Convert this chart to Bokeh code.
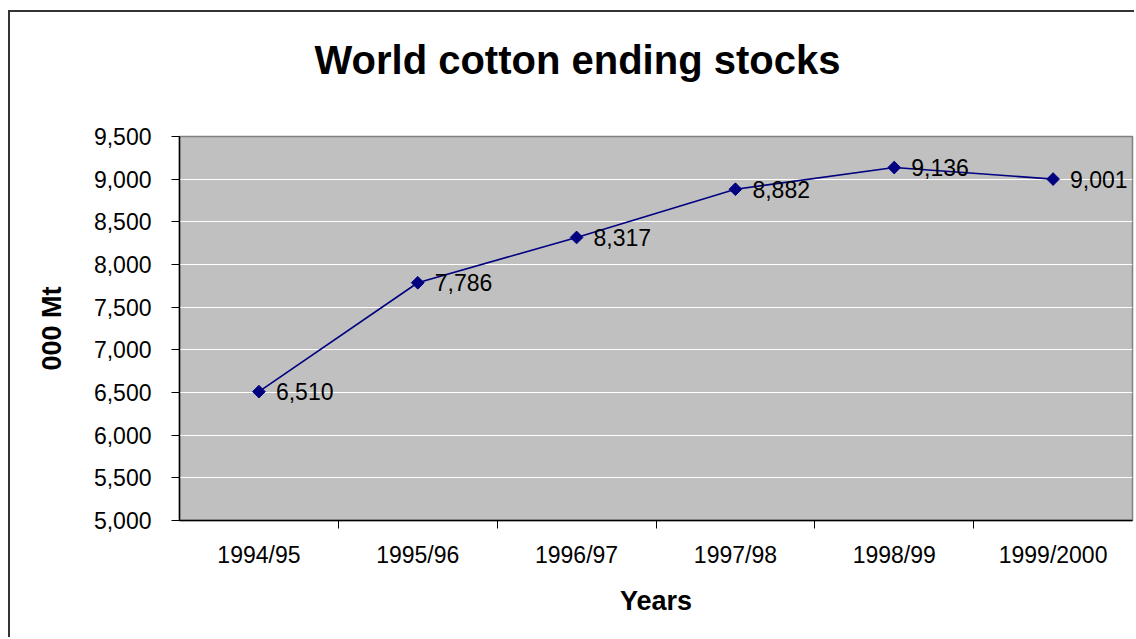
import math

from bokeh.core.properties import value
from bokeh.embed import file_html
from bokeh.models import (CategoricalAxis, ColumnDataSource, CustomLabelingPolicy,
                          FactorRange, Grid, LinearAxis, NumeralTickFormatter,
                          Range1d, SingleIntervalTicker)
from bokeh.plotting import figure
from bokeh.resources import INLINE

# World cotton ending stocks, thousand metric tons
years = ["1994/95", "1995/96", "1996/97", "1997/98", "1998/99", "1999/2000"]
stocks = [6510, 7786, 8317, 8882, 9136, 9001]
y_min, y_max, y_step = 5000, 9500, 500

FONT = "Liberation Sans"
NAVY = "#000080"
INK = "#000000"

# Labeling policy that hides every tick label of an axis
NO_LABELS = "for (const i of indices) indices.unset(i)\nreturn indices"

source = ColumnDataSource(data=dict(
    year=years,
    stock=stocks,
    label=[f"{v:,}" for v in stocks],
))

p = figure(
    x_range=FactorRange(factors=years),
    y_range=Range1d(y_min, y_max),
    width=1126, height=627,
    x_axis_type=None, y_axis_type=None,
    output_backend="svg", toolbar_location=None,
    min_border_left=169, min_border_right=4,
    min_border_top=124, min_border_bottom=119,
    background_fill_color="#C0C0C0",
    border_fill_color="white",
)
p.margin = (10, 0, 0, 8)
p.styles = {"border-left": "2px solid #333333", "border-top": "2px solid #333333"}

p.outline_line_color = "#808080"
p.outline_line_width = 1.5

# Title, centred over the whole chart rather than the plot area
p.title.text = "World cotton ending stocks"
p.title.text_font = FONT
p.title.text_font_size = "40px"
p.title.text_font_style = "bold"
p.title.text_color = INK
p.title.align = "left"
p.title.offset = 135
p.title.standoff = 42

# Blank band between the title and the plot area
spacer = CategoricalAxis(
    major_label_policy=CustomLabelingPolicy(code=NO_LABELS),
    major_label_text_font_size="0px",
    major_label_standoff=0,
    major_tick_in=0, major_tick_out=34,
    major_tick_line_color=None,
    axis_line_color=None,
)
p.add_layout(spacer, "above")

# Value axis
yticker = SingleIntervalTicker(interval=y_step)
yaxis = LinearAxis(
    ticker=yticker,
    formatter=NumeralTickFormatter(format="0,0"),
    axis_label="000 Mt",
    axis_label_text_font=FONT,
    axis_label_text_font_size="27px",
    axis_label_text_font_style="bold",
    axis_label_text_color=INK,
    axis_label_standoff=24,
    major_label_text_font=FONT,
    major_label_text_font_size="23px",
    major_label_text_color=INK,
    major_label_standoff=20,
    major_tick_in=0, major_tick_out=8,
    major_tick_line_color=INK,
    minor_tick_line_color=None,
    axis_line_color=INK, axis_line_width=1.5,
)
p.add_layout(yaxis, "left")
p.add_layout(Grid(dimension=1, ticker=yticker, grid_line_color="white",
                  grid_line_width=1.2))

# Tick marks on the boundaries between year categories: a second factor
# range whose factor centres fall on those boundaries (ticks only, no labels)
edges = [f"b{i}" for i in range(len(years) + 1)]
p.extra_x_ranges = {"edges": FactorRange(factors=edges, range_padding=-0.5,
                                         range_padding_units="absolute")}
edge_axis = CategoricalAxis(
    x_range_name="edges",
    major_label_policy=CustomLabelingPolicy(code=NO_LABELS),
    major_label_text_font_size="0px",
    major_label_standoff=0,
    major_tick_in=0, major_tick_out=8,
    major_tick_line_color=INK,
    axis_line_color=INK, axis_line_width=1.5,
)
p.add_layout(edge_axis, "below")

# Year labels
xaxis = CategoricalAxis(
    axis_label="Years",
    axis_label_text_font=FONT,
    axis_label_text_font_size="27px",
    axis_label_text_font_style="bold",
    axis_label_text_color=INK,
    axis_label_standoff=15,
    major_label_text_font=FONT,
    major_label_text_font_size="23px",
    major_label_text_color=INK,
    major_label_standoff=7,
    major_tick_line_color=None,
    axis_line_color=None,
)
p.add_layout(xaxis, "below")

# Series
p.line("year", "stock", source=source, line_color=NAVY, line_width=1.6)
p.scatter("year", "stock", source=source, marker="square", angle=math.pi / 4,
          size=9, fill_color=NAVY, line_color=NAVY)
p.text("year", "stock", text="label", source=source,
       x_offset=17, text_align="left", text_baseline="middle",
       text_font=value(FONT), text_font_size="23px", text_color=INK)

open("out.html", "w").write(file_html(p, INLINE))
